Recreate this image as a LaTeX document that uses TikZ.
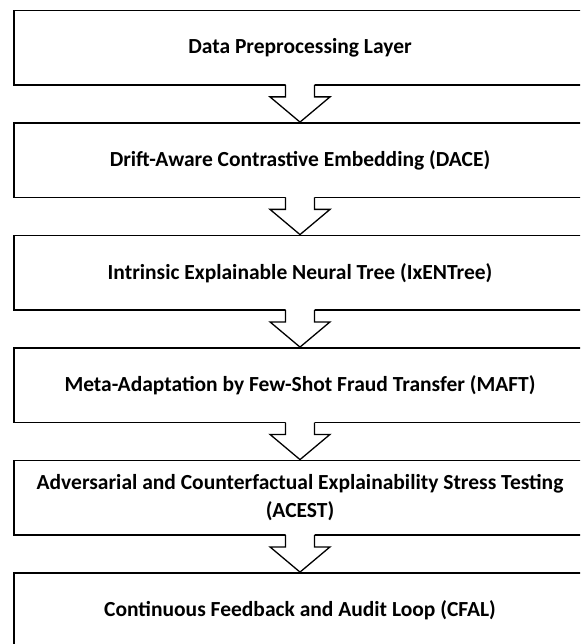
\documentclass[tikz,border=0pt]{standalone}
\usepackage{fontspec}
\setmainfont{Carlito}
\usepackage{tikz}

\begin{document}
\begin{tikzpicture}[x=1pt,y=-1pt,
        stage/.style={draw,line width=1.8pt,fill=white,minimum width=572pt,minimum height=74.5pt,inner sep=0pt,align=center,font=\bfseries\fontsize{21.5}{27.5}\selectfont},
        flow/.style={line width=1.3pt,line join=miter}]
        \useasboundingbox(0,0)rectangle(580,644);
        \clip(0,0)rectangle(580,644);
        \node[stage](prep)at(300,47.75){Data Preprocessing Layer};
        \node[stage](dace)at(300,160.25){Drift-Aware Contrastive Embedding (DACE)};
        \node[stage](ixen)at(300,272.75){Intrinsic Explainable Neural Tree (IxENTree)};
        \node[stage](maft)at(300,385.25){Meta-Adaptation by Few-Shot Fraud Transfer (MAFT)};
        \node[stage](acest)at(300,497.75){Adversarial and Counterfactual Explainability Stress Testing\\(ACEST)};
        \node[stage](cfal)at(300,610.25){Continuous Feedback and Audit Loop (CFAL)};
        \foreach \a/\b in {prep/dace,dace/ixen,ixen/maft,maft/acest,acest/cfal}{
            \fill[white]([xshift=-14.5pt,yshift=4pt]\a.south)--([xshift=-14.5pt,yshift=-11pt]\a.south)--([xshift=-30pt,yshift=-11pt]\a.south)--(\b.north)--([xshift=30pt,yshift=-11pt]\a.south)--([xshift=14.5pt,yshift=-11pt]\a.south)--([xshift=14.5pt,yshift=4pt]\a.south)--cycle;
            \draw[flow]([xshift=-14.5pt,yshift=0.9pt]\a.south)--([xshift=-14.5pt,yshift=-11pt]\a.south)--([xshift=-30pt,yshift=-11pt]\a.south)--(\b.north)--([xshift=30pt,yshift=-11pt]\a.south)--([xshift=14.5pt,yshift=-11pt]\a.south)--([xshift=14.5pt,yshift=0.9pt]\a.south);
        }
\end{tikzpicture}
\end{document}
